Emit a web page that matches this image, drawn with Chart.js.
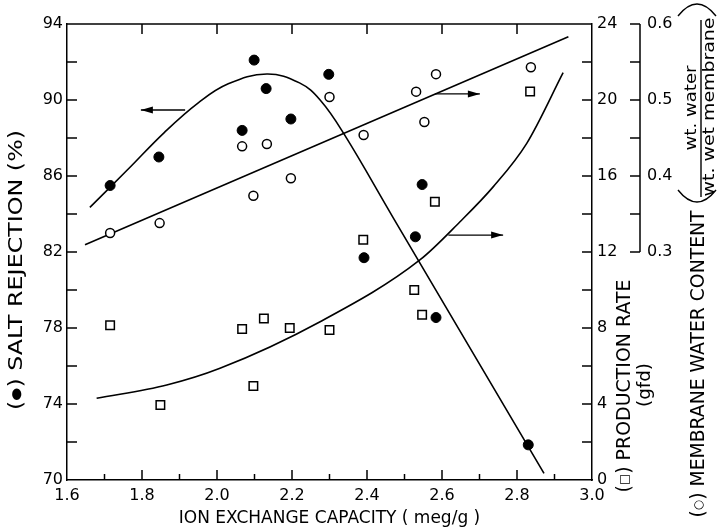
<!DOCTYPE html>
<html><head><meta charset="utf-8">
<script src="https://cdn.jsdelivr.net/npm/chart.js@4/dist/chart.umd.min.js"></script>
<style>html,body{margin:0;padding:0;background:#fff;}canvas{display:block;}</style>
</head><body>
<canvas id="c" width="717" height="529"></canvas>
<script>
// ---- data ----
const saltCapacity   = [1.715, 1.845, 2.067, 2.099, 2.131, 2.197, 2.298, 2.392, 2.529, 2.547, 2.584, 2.830];
const saltRejection  = [85.5, 87.0, 88.4, 92.1, 90.6, 89.0, 91.35, 81.7, 82.8, 85.55, 78.55, 71.85];
const waterCapacity  = [1.715, 1.847, 2.067, 2.097, 2.133, 2.197, 2.300, 2.391, 2.531, 2.553, 2.584, 2.837];
const waterContent   = [0.325, 0.338, 0.439, 0.374, 0.442, 0.397, 0.504, 0.454, 0.511, 0.471, 0.534, 0.543];
const prodCapacity   = [1.715, 1.849, 2.067, 2.097, 2.125, 2.194, 2.300, 2.390, 2.526, 2.547, 2.581, 2.835];
const productionRate = [8.15, 3.95, 7.95, 4.95, 8.5, 8.0, 7.9, 12.65, 10.0, 8.7, 14.65, 20.45];

// fitted curves
const saltFitX  = [1.661, 1.76, 1.86, 1.95, 2.03, 2.133, 2.22, 2.275, 2.339, 2.47, 2.872];
const saltFitY  = [84.35, 86.3, 88.3, 89.85, 90.85, 91.37, 90.9, 90.0, 88.2, 83.8, 70.35];
const waterFitX = [1.648, 2.937];
const waterFitY = [0.3096, 0.5833];
const prodFitX  = [1.679, 1.866, 2.008, 2.275, 2.541, 2.648, 2.737, 2.826, 2.923];
const prodFitY  = [4.3, 5.0, 5.88, 8.33, 11.58, 13.59, 15.44, 17.72, 21.44];

// arrows: [fromX, toX, y] on their own axis
const saltArrow  = [1.915, 1.797, 89.47];
const waterArrow = [2.581, 2.701, 0.508];
const prodArrow  = [2.617, 2.763, 12.89];

// axes
const xRange = [1.6, 3.0];
const saltRange = [70, 94];
const prodRange = [0, 24];
const waterRange = [0, 0.6];
const waterLabels = [0.3, 0.4, 0.5, 0.6];

const FONT = '"DejaVu Sans", sans-serif';
const pts = (xs, ys) => xs.map((x, i) => ({x, y: ys[i]}));

function seg(ctx, x1, y1, x2, y2) { ctx.beginPath(); ctx.moveTo(x1, y1); ctx.lineTo(x2, y2); ctx.stroke(); }
function arrow(ctx, x1, y1, x2, y2) {
  seg(ctx, x1, y1, x2, y2);
  const ang = Math.atan2(y2 - y1, x2 - x1), L = 12, W = 3.5;
  ctx.beginPath();
  ctx.moveTo(x2, y2);
  ctx.lineTo(x2 - L * Math.cos(ang) + W * Math.sin(ang), y2 - L * Math.sin(ang) - W * Math.cos(ang));
  ctx.lineTo(x2 - L * Math.cos(ang) - W * Math.sin(ang), y2 - L * Math.sin(ang) + W * Math.cos(ang));
  ctx.closePath(); ctx.fill();
}
// vertical text made of parts [text, size], stretched to a given length
function vText(ctx, parts, cx, cy, len) {
  ctx.save();
  ctx.translate(cx, cy); ctx.rotate(-Math.PI / 2);
  const widths = parts.map(([t, sz]) => { ctx.font = sz + 'px ' + FONT; return ctx.measureText(t).width; });
  const total = widths.reduce((p, q) => p + q, 0);
  ctx.scale(len / total, 1);
  ctx.textAlign = 'left'; ctx.textBaseline = 'middle';
  let x = -total / 2;
  parts.forEach(([t, sz], i) => { ctx.font = sz + 'px ' + FONT; ctx.fillText(t, x, 0); x += widths[i]; });
  ctx.restore();
}

const decor = {
  id: 'decor',
  afterDraw(chart) {
    const {ctx, chartArea: a, scales: s} = chart;
    const X = s.x, YS = s.ySalt, YP = s.yProd, YW = s.yWater;
    ctx.save();
    ctx.strokeStyle = '#000'; ctx.fillStyle = '#000'; ctx.lineWidth = 1.5;
    // top frame
    seg(ctx, a.left, a.top, a.right, a.top);
    // inward ticks on x
    for (let i = 1; i < 14; i++) {
      const px = X.getPixelForValue(xRange[0] + i * 0.1);
      seg(ctx, px, a.bottom, px, a.bottom - (i % 2 === 0 ? 10 : 6));
      if (i % 2 === 0) seg(ctx, px, a.top, px, a.top + 10);
    }
    // inward ticks left / right
    for (let v = saltRange[0] + 2; v < saltRange[1]; v += 2) {
      const py = YS.getPixelForValue(v); seg(ctx, a.left, py, a.left + 10, py);
    }
    for (let v = prodRange[0] + 2; v < prodRange[1]; v += 2) {
      const py = YP.getPixelForValue(v); seg(ctx, a.right, py, a.right - 10, py);
    }
    // water content axis (0.3 - 0.6)
    const wx = YW.left;
    seg(ctx, wx, YW.getPixelForValue(0.3), wx, YW.getPixelForValue(0.6));
    for (let k = 0; k <= 6; k++) {
      const py = YW.getPixelForValue(0.3 + k * 0.05); seg(ctx, wx - 10, py, wx, py);
    }
    // arrows
    ctx.lineWidth = 1.4;
    arrow(ctx, X.getPixelForValue(saltArrow[0]), YS.getPixelForValue(saltArrow[2]), X.getPixelForValue(saltArrow[1]), YS.getPixelForValue(saltArrow[2]));
    arrow(ctx, X.getPixelForValue(waterArrow[0]), YW.getPixelForValue(waterArrow[2]), X.getPixelForValue(waterArrow[1]), YW.getPixelForValue(waterArrow[2]));
    arrow(ctx, X.getPixelForValue(prodArrow[0]), YP.getPixelForValue(prodArrow[2]), X.getPixelForValue(prodArrow[1]), YP.getPixelForValue(prodArrow[2]));
    // axis titles
    vText(ctx, [['(', 19], ['\u25CF', 12], [') SALT REJECTION (%)', 19]], 17, 270, 280);
    vText(ctx, [['(', 19], ['\u25A1', 12], [') PRODUCTION RATE', 19]], 625, 386, 213);
    vText(ctx, [['(gfd)', 17]], 646, 385, 44);
    vText(ctx, [['(', 19], ['\u25CB', 12], [') MEMBRANE WATER CONTENT', 19]], 699, 364, 307);
    vText(ctx, [['wt. water', 15]], 692, 108, 85);
    vText(ctx, [['wt. wet membrane', 15]], 710, 107, 179);
    ctx.lineWidth = 1.4;
    seg(ctx, 701, 197, 701, 20);
    ctx.beginPath(); ctx.moveTo(678, 190); ctx.quadraticCurveTo(697, 214, 716, 190); ctx.stroke();
    ctx.beginPath(); ctx.moveTo(678, 16); ctx.quadraticCurveTo(697, -8, 716, 16); ctx.stroke();
    ctx.restore();
  }
};

const tickFont = {family: FONT, size: 16};
new Chart(document.getElementById('c'), {
  type: 'scatter',
  data: {
    datasets: [
      {label: 'Salt rejection', data: pts(saltCapacity, saltRejection), yAxisID: 'ySalt',
       pointStyle: 'circle', pointRadius: 5, backgroundColor: '#000', borderColor: '#000', borderWidth: 1},
      {label: 'Water content', data: pts(waterCapacity, waterContent), yAxisID: 'yWater',
       pointStyle: 'circle', pointRadius: 4.5, backgroundColor: '#fff', borderColor: '#000', borderWidth: 1.5},
      {label: 'Production rate', data: pts(prodCapacity, productionRate), yAxisID: 'yProd',
       pointStyle: 'rect', pointRadius: 6, backgroundColor: '#fff', borderColor: '#000', borderWidth: 1.5},
      {label: 'Salt fit', data: pts(saltFitX, saltFitY), yAxisID: 'ySalt', showLine: true,
       pointRadius: 0, borderColor: '#000', borderWidth: 1.6, tension: 0.4},
      {label: 'Water fit', data: pts(waterFitX, waterFitY), yAxisID: 'yWater', showLine: true,
       pointRadius: 0, borderColor: '#000', borderWidth: 1.6},
      {label: 'Production fit', data: pts(prodFitX, prodFitY), yAxisID: 'yProd', showLine: true,
       pointRadius: 0, borderColor: '#000', borderWidth: 1.6, cubicInterpolationMode: 'monotone'}
    ]
  },
  options: {
    responsive: false, animation: false, events: [], devicePixelRatio: 1,
    layout: {padding: {top: 24, left: 0, right: 0, bottom: 0}},
    plugins: {legend: {display: false}, tooltip: {enabled: false}},
    scales: {
      x: {type: 'linear', position: 'bottom', min: xRange[0], max: xRange[1],
        grid: {display: false, drawTicks: false}, border: {display: true, color: '#000', width: 1.5},
        ticks: {stepSize: 0.2, color: '#000', font: tickFont, padding: 6, maxRotation: 0, autoSkip: false,
          callback: v => Number(v).toFixed(1)},
        title: {display: true, text: 'ION EXCHANGE CAPACITY ( meg/g )', color: '#000',
          font: {family: FONT, size: 17}, padding: {top: 0, bottom: 0}},
        afterFit: sc => { sc.height = 49; }},
      ySalt: {type: 'linear', position: 'left', min: saltRange[0], max: saltRange[1],
        grid: {display: false, drawTicks: false}, border: {display: true, color: '#000', width: 1.5},
        ticks: {stepSize: 4, color: '#000', font: tickFont, padding: 4, autoSkip: false},
        afterFit: sc => { sc.width = 67; }},
      yProd: {type: 'linear', position: 'right', weight: 0, min: prodRange[0], max: prodRange[1],
        grid: {display: false, drawTicks: false}, border: {display: true, color: '#000', width: 1.5},
        ticks: {stepSize: 4, color: '#000', font: tickFont, padding: 5, autoSkip: false},
        afterFit: sc => { sc.width = 48; }},
      yWater: {type: 'linear', position: 'right', weight: 1, min: waterRange[0], max: waterRange[1],
        grid: {display: false, drawTicks: false}, border: {display: false},
        ticks: {stepSize: 0.1, color: '#000', font: tickFont, padding: 7, autoSkip: false,
          callback: v => Number(v).toFixed(1)},
        afterBuildTicks: sc => { sc.ticks = waterLabels.map(v => ({value: v})); },
        afterFit: sc => { sc.width = 77; }}
    }
  },
  plugins: [decor]
});
</script>
</body></html>
